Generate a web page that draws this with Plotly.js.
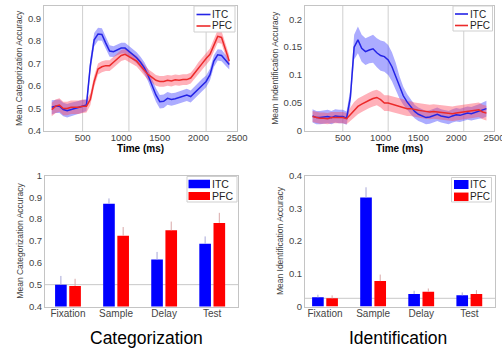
<!DOCTYPE html>
<html>
<head>
<meta charset="utf-8">
<script src="https://cdn.plot.ly/plotly-3.0.1.min.js"></script>
<style>
html,body{margin:0;padding:0;background:#fff;}
#chart{width:502px;height:348px;}
</style>
</head>
<body>
<div id="chart"></div>
<script>
// ---------- Data ----------
const timeMs = [100,150,200,250,300,350,400,450,500,550,600,650,700,750,800,850,900,950,1000,1050,1100,1150,1200,1250,1300,1350,1400,1450,1500,1550,1600,1650,1700,1750,1800,1850,1900,1950,2000,2050,2100,2150,2200,2250,2300,2350,2400];

const catITC = [.505,.51,.51,.495,.49,.495,.50,.505,.51,.515,.69,.805,.83,.828,.79,.755,.752,.76,.768,.768,.755,.74,.725,.705,.68,.645,.605,.56,.53,.532,.545,.54,.543,.548,.552,.56,.553,.57,.59,.605,.62,.65,.71,.738,.735,.715,.695];
const catITCsem = [.032,.03,.03,.03,.03,.03,.03,.03,.028,.026,.03,.03,.028,.028,.025,.025,.024,.024,.024,.024,.024,.024,.024,.024,.025,.027,.028,.03,.03,.03,.028,.028,.027,.027,.027,.027,.027,.027,.027,.027,.026,.026,.026,.025,.025,.024,.022];
const catPFC = [.495,.51,.515,.50,.50,.505,.505,.505,.51,.51,.54,.62,.675,.685,.69,.69,.705,.72,.735,.74,.73,.72,.71,.69,.672,.65,.638,.625,.62,.62,.625,.622,.627,.625,.628,.628,.635,.655,.68,.70,.722,.74,.78,.82,.815,.76,.71];
const catPFCsem = [.03,.03,.03,.03,.03,.03,.03,.03,.03,.028,.026,.025,.024,.024,.024,.024,.024,.024,.024,.024,.024,.024,.024,.024,.024,.024,.024,.024,.024,.024,.024,.024,.024,.024,.024,.024,.024,.024,.025,.025,.026,.026,.027,.028,.028,.027,.025];

const idITC = [.027,.024,.024,.025,.026,.024,.027,.026,.026,.023,.06,.15,.163,.148,.142,.145,.147,.14,.135,.133,.127,.115,.098,.078,.063,.052,.043,.035,.03,.027,.024,.025,.027,.03,.027,.025,.024,.027,.029,.028,.03,.032,.031,.033,.035,.037,.04];
const idITCsem = [.012,.012,.012,.012,.012,.012,.012,.012,.012,.012,.015,.022,.024,.024,.024,.024,.025,.026,.027,.027,.027,.026,.024,.02,.016,.014,.013,.012,.012,.012,.012,.012,.012,.012,.012,.012,.012,.012,.012,.012,.012,.012,.012,.012,.013,.014,.014];
const idPFC = [.026,.024,.023,.023,.022,.024,.024,.025,.024,.022,.03,.038,.044,.048,.052,.055,.058,.06,.056,.05,.05,.048,.047,.045,.043,.04,.04,.038,.037,.036,.035,.034,.035,.034,.033,.032,.032,.031,.032,.033,.033,.034,.036,.037,.038,.034,.032];
const idPFCsem = [.01,.01,.01,.01,.01,.01,.01,.01,.01,.01,.012,.014,.014,.014,.014,.014,.014,.014,.014,.014,.014,.014,.014,.014,.014,.013,.013,.013,.013,.013,.013,.013,.013,.013,.013,.013,.013,.013,.013,.013,.013,.013,.013,.013,.013,.013,.013];

const epochBounds = [500, 1100, 2100];

const periods = ['Fixation','Sample','Delay','Test'];
const barCatITC = [0.50, 0.871, 0.615, 0.687];
const barCatITCerr = [0.04, 0.024, 0.035, 0.034];
const barCatPFC = [0.494, 0.724, 0.749, 0.783];
const barCatPFCerr = [0.033, 0.04, 0.04, 0.046];
const barIdITC = [0.028, 0.333, 0.038, 0.034];
const barIdITCerr = [0.008, 0.031, 0.01, 0.009];
const barIdPFC = [0.025, 0.0775, 0.045, 0.038];
const barIdPFCerr = [0.009, 0.02, 0.01, 0.012];
const chanceCat = 0.5;
const chanceId = 0.025;
const seriesNames = ['ITC', 'PFC'];

// ---------- Styles ----------
const FONT = '"Liberation Sans", Arial, Helvetica, sans-serif';
const BLUE = '#2424e6';
const RED = '#ec2a2a';
const BLUE_BAND = 'rgba(70,70,255,0.45)';
const RED_BAND = 'rgba(255,70,90,0.42)';
const BAR_COLORS = ['#0000ff', '#ff0000'];

function band(x, m, s, xa, ya, color) {
  const lo = m.map((v, i) => v - s[i]);
  const hi = m.map((v, i) => v + s[i]);
  return [
    {x: x, y: lo, xaxis: xa, yaxis: ya, type: 'scatter', mode: 'lines', line: {width: 0}, showlegend: false, hoverinfo: 'skip'},
    {x: x, y: hi, xaxis: xa, yaxis: ya, type: 'scatter', mode: 'lines', line: {width: 0}, fill: 'tonexty', fillcolor: color, showlegend: false, hoverinfo: 'skip'}
  ];
}
function line(x, m, xa, ya, color, name) {
  return {x: x, y: m, xaxis: xa, yaxis: ya, type: 'scatter', mode: 'lines', line: {color: color, width: 1.5}, name: name, showlegend: false};
}
function bars(y, e, xa, ya, color, ecolor, name) {
  return {x: periods, y: y, xaxis: xa, yaxis: ya, type: 'bar', marker: {color: color, line: {width: 0}}, name: name, showlegend: false,
    error_y: {type: 'data', symmetric: false, array: e, arrayminus: e.map(() => 0), color: ecolor, thickness: 1, width: 0}};
}

const traces = [].concat(
  band(timeMs, catITC, catITCsem, 'x', 'y', BLUE_BAND),
  band(timeMs, catPFC, catPFCsem, 'x', 'y', RED_BAND),
  [line(timeMs, catITC, 'x', 'y', BLUE, seriesNames[0]), line(timeMs, catPFC, 'x', 'y', RED, seriesNames[1])],
  band(timeMs, idITC, idITCsem, 'x2', 'y2', BLUE_BAND),
  band(timeMs, idPFC, idPFCsem, 'x2', 'y2', RED_BAND),
  [line(timeMs, idITC, 'x2', 'y2', BLUE, seriesNames[0]), line(timeMs, idPFC, 'x2', 'y2', RED, seriesNames[1])],
  [bars(barCatITC, barCatITCerr, 'x3', 'y3', BAR_COLORS[0], '#a8a8d8', seriesNames[0]),
   bars(barCatPFC, barCatPFCerr, 'x3', 'y3', BAR_COLORS[1], '#d8a8a8', seriesNames[1]),
   bars(barIdITC, barIdITCerr, 'x4', 'y4', BAR_COLORS[0], '#a8a8d8', seriesNames[0]),
   bars(barIdPFC, barIdPFCerr, 'x4', 'y4', BAR_COLORS[1], '#d8a8a8', seriesNames[1])]
);

const W = 502, H = 348;
const px = (a, b) => [a / W, b / W];
const py = (top, bottom) => [(H - bottom) / H, (H - top) / H];
const PX = v => v / W;
const PY = v => 1 - v / H;

const LINEC = '#c4c4c4';
const TICKF = {family: FONT, size: 9.5, color: '#444'};
function timeAxis(dom, anchor) {
  return {domain: dom, anchor: anchor, range: [0, 2500], tickvals: [500,1000,1500,2000,2500], showgrid: false, zeroline: false,
    showline: true, mirror: true, linecolor: LINEC, linewidth: 1, ticks: '', tickfont: TICKF, ticklabelstandoff: -2,
    ticklabeloverflow: 'allow',
    title: {text: '<b>Time (ms)</b>', font: {family: FONT, size: 10, color: '#000'}, standoff: 1}};
}
function valAxis(dom, anchor, range, tv, title) {
  return {domain: dom, anchor: anchor, range: range, tickvals: tv, showgrid: false, zeroline: false,
    showline: true, mirror: true, linecolor: LINEC, linewidth: 1, ticks: '', tickfont: TICKF,
    title: {text: title, font: {family: FONT, size: 8.5, color: '#444'}, standoff: 3}};
}
function catAxis(dom, anchor, range) {
  return {domain: dom, anchor: anchor, type: 'category', range: range, showgrid: false, zeroline: false,
    showline: true, mirror: true, linecolor: LINEC, linewidth: 1, ticks: '', ticklabelstandoff: -3,
    tickfont: {family: FONT, size: 10, color: '#444'}};
}

const shapes = [];
epochBounds.forEach(b => {
  ['x', 'x2'].forEach((xa, k) => {
    shapes.push({type: 'line', xref: xa, yref: (k === 0 ? 'y' : 'y2') + ' domain', x0: b, x1: b, y0: 0, y1: 1, line: {color: '#cfcfcf', width: 1}, layer: 'below'});
  });
});
shapes.push({type: 'line', xref: 'x3 domain', yref: 'y3', x0: 0, x1: 1, y0: chanceCat, y1: chanceCat, line: {color: '#c8c8c8', width: 1}, layer: 'below'});
shapes.push({type: 'line', xref: 'x4 domain', yref: 'y4', x0: 0, x1: 1, y0: chanceId, y1: chanceId, line: {color: '#c8c8c8', width: 1}, layer: 'below'});

// ---------- Compact MATLAB-style legends ----------
const annotations = [];
function addLegend(box, rows, kind, colors, fontSize) {
  shapes.push({type: 'rect', xref: 'paper', yref: 'paper', x0: PX(box[0]), x1: PX(box[1]), y0: PY(box[3]), y1: PY(box[2]),
    fillcolor: '#fff', line: {color: '#cfcfcf', width: 1}, layer: 'above'});
  rows.forEach((r, i) => {
    if (kind === 'line') {
      shapes.push({type: 'line', xref: 'paper', yref: 'paper', x0: PX(r.s0), x1: PX(r.s1), y0: PY(r.cy), y1: PY(r.cy),
        line: {color: colors[i], width: 1.6}, layer: 'above'});
    } else {
      shapes.push({type: 'rect', xref: 'paper', yref: 'paper', x0: PX(r.s0), x1: PX(r.s1), y0: PY(r.cy + r.h / 2), y1: PY(r.cy - r.h / 2),
        fillcolor: colors[i], line: {width: 0}, layer: 'above'});
    }
    annotations.push({text: seriesNames[i], xref: 'paper', yref: 'paper', x: PX(r.tx), y: PY(r.cy), xanchor: 'left', yanchor: 'middle',
      showarrow: false, borderpad: 0, font: {family: FONT, size: fontSize, color: '#222'}});
  });
}
addLegend([194, 235, 6, 32], [{s0: 196.5, s1: 210.5, cy: 14.5, tx: 211}, {s0: 196.5, s1: 210.5, cy: 26, tx: 211}], 'line', [BLUE, RED], 10);
addLegend([453, 492.5, 6, 31], [{s0: 455, s1: 468, cy: 14, tx: 468.5}, {s0: 455, s1: 468, cy: 25.5, tx: 468.5}], 'line', [BLUE, RED], 10);
addLegend([187, 237, 176.5, 202], [{s0: 188.5, s1: 210, cy: 184, h: 8.5, tx: 210.5}, {s0: 188.5, s1: 210, cy: 196, h: 8, tx: 210.5}], 'rect', BAR_COLORS, 10.5);
addLegend([451.5, 491.5, 177.5, 202], [{s0: 454, s1: 468.5, cy: 184.5, h: 9, tx: 469}, {s0: 454, s1: 468.5, cy: 196.8, h: 8.5, tx: 469}], 'rect', BAR_COLORS, 10);

annotations.push({text: 'Categorization', xref: 'paper', yref: 'paper', x: PX(146.7), y: PY(338), xanchor: 'center', yanchor: 'middle', showarrow: false, font: {family: FONT, size: 17.5, color: '#000'}});
annotations.push({text: 'Identification', xref: 'paper', yref: 'paper', x: PX(398.3), y: PY(338), xanchor: 'center', yanchor: 'middle', showarrow: false, font: {family: FONT, size: 17.5, color: '#000'}});

const layout = {
  width: W, height: H,
  margin: {l: 0, r: 0, t: 0, b: 0},
  paper_bgcolor: '#fff', plot_bgcolor: '#fff',
  font: {family: FONT},
  showlegend: false,
  bargap: 0.41, bargroupgap: 0.18, barmode: 'group',
  xaxis: timeAxis(px(44, 237), 'y'),
  yaxis: valAxis(py(5.7, 131), 'x', [0.4, 0.956], [0.4,0.5,0.6,0.7,0.8,0.9], 'Mean Categorization Accuracy'),
  xaxis2: timeAxis(px(305, 494), 'y2'),
  yaxis2: valAxis(py(5.5, 131), 'x2', [0, 0.2245], [0,0.05,0.1,0.15,0.2], 'Mean Indentification Accuracy'),
  xaxis3: catAxis(px(45, 238), 'y3', [-0.478, 3.536]),
  yaxis3: valAxis(py(175.5, 306.5), 'x3', [0.4, 1.0], [0.4,0.5,0.6,0.7,0.8,0.9,1], 'Mean Categorization Accuracy'),
  xaxis4: catAxis(px(305, 495), 'y4', [-0.416, 3.534]),
  yaxis4: valAxis(py(175.5, 306.5), 'x4', [0, 0.4], [0,0.1,0.2,0.3,0.4], 'Mean Identification Accuracy'),
  shapes: shapes,
  annotations: annotations
};

Plotly.newPlot('chart', traces, layout, {displayModeBar: false, staticPlot: true});
</script>
</body>
</html>
